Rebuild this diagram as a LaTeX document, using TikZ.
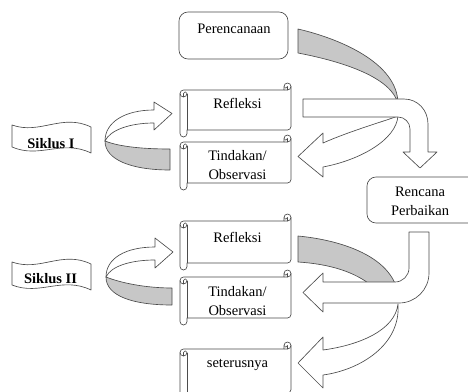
\documentclass[tikz,border=0pt]{standalone}
\usepackage{fontspec}
\setmainfont{Liberation Serif}
\newcommand\drawscroll[4]{%
 \pgfmathsetmacro\scL{#1}\pgfmathsetmacro\scT{#2}\pgfmathsetmacro\scR{#3}\pgfmathsetmacro\scB{#4}%
 \draw[ln,fill=white] (\scL,\scT+10.5) arc[start angle=180,delta angle=90,radius=3.5pt] -- (\scR-7,\scT+7) -- (\scR-7,\scT+3.5) arc[start angle=180,delta angle=180,radius=3.5pt] -- (\scR,\scB-10.5) arc[start angle=0,delta angle=90,radius=3.5pt] -- (\scL+7,\scB-7) -- (\scL+7,\scB-3.5) arc[start angle=0,delta angle=180,radius=3.5pt] -- cycle;
 \draw[ln] (\scR-7,\scT+7) -- (\scR-3.5,\scT+7) arc[start angle=90,delta angle=-90,radius=3.5pt];
 \draw[ln] (\scR-3.5,\scT+7) -- (\scR-3.5,\scT+3.5) arc[start angle=0,delta angle=180,radius=1.75pt];
 \draw[ln] (\scL+3.5,\scT+14) -- (\scL+3.5,\scT+10.5) arc[start angle=180,delta angle=180,radius=1.75pt] arc[start angle=0,delta angle=180,radius=3.5pt];
 \draw[ln] (\scL+7,\scT+10.5) -- (\scL+7,\scB-7);
}
\tikzset{
 ln/.style={draw=black!70, line width=0.65pt, line join=round},
 backband/.style={ln, fill=black!22},
 front/.style={ln, fill=white},
 txt/.style={font=\fontsize{14.5}{19.5}\selectfont, inner sep=0pt, anchor=base, align=center},
 btxt/.style={txt, font=\fontsize{14.5}{19.5}\selectfont\bfseries},
 roundbox/.style={ln, rounded corners=9pt, fill=white, inner sep=0pt},
}
\begin{document}
\begin{tikzpicture}[x=1pt,y=1pt,yscale=-1]
\fill[white] (0,0) rectangle (468,391);
\useasboundingbox (0,0) rectangle (468,391);
% boxes
\node[roundbox, minimum width=109pt, minimum height=47pt] (per) at (233.5,35.5) {};
\node[roundbox, minimum width=120pt, minimum height=46pt] (ren) at (427,200) {};
% scrolls
\drawscroll{180}{83}{291}{137}
\drawscroll{180}{135}{291}{190}
\drawscroll{180}{214}{291}{270}
\drawscroll{180}{270}{291}{325}
\drawscroll{180}{342}{291}{400}
% banners
\draw[ln,fill=white] (12,125) .. controls (40,135) and (62,113) .. (91,127) -- (91,153) .. controls (62,139) and (40,159) .. (12,147) -- cycle;
\draw[ln,fill=white] (12,262) .. controls (40,272) and (62,250) .. (91,264) -- (91,290) .. controls (62,276) and (40,296) .. (12,285) -- cycle;
% left curved arrows
\draw[backband] (170,149) -- (170,170) .. controls (132,170) and (105,160) .. (105,141) .. controls (120,147) and (145,149) .. (170,149) -- cycle;
\draw[front] (105,141) .. controls (105,122) and (125,110) .. (154,110) -- (154,102) -- (172,113.5) -- (154,130) -- (154,123) .. controls (130,123) and (110,130) .. (105,141) -- cycle;
\draw[backband] (172,288) -- (172,305) .. controls (133,305) and (106,296) .. (106,277) .. controls (121,283) and (146,288) .. (172,288) -- cycle;
\draw[front] (106,277) .. controls (106,258) and (126,247) .. (155,247) -- (155,238) -- (173,252) -- (155,268) -- (155,260) .. controls (131,260) and (111,266) .. (106,277) -- cycle;
% right arrows, upper
\draw[backband] (298,29) .. controls (337,38) and (398,62) .. (398,104) .. controls (392,78) and (345,62) .. (298,53) -- cycle;
\draw[front] (398,116) .. controls (396,140) and (360,160) .. (323,167) -- (323,177) -- (298,156.5) -- (323,133) -- (323,143) .. controls (350,131) and (385,121) .. (398,116) -- cycle;
\draw[front] (303,99) -- (404,99) .. controls (417.8,99) and (428,110.2) .. (428,124) -- (428,152) -- (437,152) -- (420,168) -- (403,152) -- (410,152) -- (410,129) .. controls (410,122.4) and (404.6,117) .. (398,117) -- (303,117) -- cycle;
% right arrows, lower
\draw[backband] (298,236) .. controls (340,240) and (385,255) .. (396,286) -- (372,286) .. controls (355,272) and (330,264) .. (298,262) -- cycle;
\draw[front] (398,304) .. controls (401,345) and (360,370) .. (323,375) -- (323,388) -- (298,363) -- (323,337) -- (323,350) .. controls (360,345) and (395,330) .. (398,304) -- cycle;
\draw[front] (409,232) -- (429,232) -- (429,273) .. controls (429,289.6) and (415.6,303) .. (399,303) -- (323,303) -- (323,312) -- (303,292.5) -- (323,273) -- (323,282) -- (395,282) .. controls (402.7,282) and (409,275.7) .. (409,268) -- cycle;
% texts
\node[txt] (tPer) at (234,33) {Perencanaan};
\node[txt] (tRef1) at (237.5,108) {Refleksi};
\node[txt] (tTin1) at (237.5,179.5) {Tindakan/\\Observasi};
\node[btxt] (tSik1) at (51,148) {Siklus I};
\node[txt] (tRen) at (420,215.5) {Rencana\\Perbaikan};
\node[txt] (tRef2) at (237.5,242) {Refleksi};
\node[txt] (tTin2) at (237.5,315.5) {Tindakan/\\Observasi};
\node[btxt] (tSik2) at (50.5,283.5) {Siklus II};
\node[txt] (tSet) at (237.5,367.5) {seterusnya};
\end{tikzpicture}
\end{document}
